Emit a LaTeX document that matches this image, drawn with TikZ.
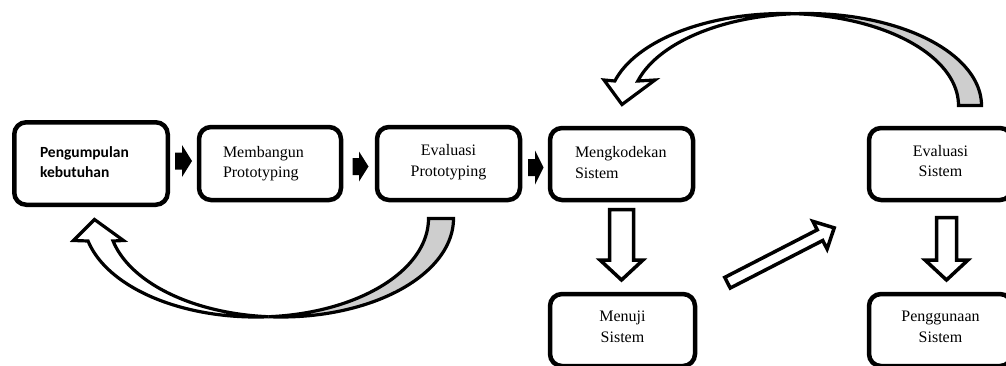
\documentclass[tikz,border=0pt]{standalone}
\usepackage{fontspec}
\setmainfont{Liberation Serif}
\newfontfamily\calibfont{Carlito}
\definecolor{backgray}{RGB}{206,206,206}
\begin{document}
\begin{tikzpicture}[x=1pt,y=-1pt,
  box/.style={draw, line width=4.5pt, rounded corners=12pt, inner sep=0pt, fill=white,
    font=\fontsize{16}{20.5}\selectfont,
    execute at begin node=\strut, execute at end node=\strut},
  smallarrow/.style={fill=black},
  hollow/.style={draw, line width=3.5pt, fill=white, line join=miter},
  curvy/.style={draw, line width=3.2pt, line join=miter},
]
\useasboundingbox (0,0) rectangle (1006,365);
\clip (0,0) rectangle (1006,365);

% boxes
\node[box, minimum width=153.5pt, minimum height=82.5pt, text width=102pt, align=left,
  font=\calibfont\bfseries\fontsize{15.5}{20}\selectfont] (pk) at (91,163.5) {Pengumpulan\\kebutuhan};
\node[box, minimum width=142pt, minimum height=73pt, text width=94pt, align=left] (mp) at (270,163.5) {Membangun\\Prototyping};
\node[box, minimum width=143pt, minimum height=73pt, align=center] (ep) at (448.5,163.5) {Evaluasi\\Prototyping};
\node[box, minimum width=143pt, minimum height=72pt, text width=93pt, align=left] (ms) at (621.5,164) {Mengkodekan\\Sistem};
\node[box, minimum width=143pt, minimum height=72pt, align=center] (es) at (940.5,164) {Evaluasi\\Sistem};
\node[box, minimum width=145pt, minimum height=72pt, align=center] (mj) at (622.5,330) {Menuji\\Sistem};
\node[box, minimum width=143pt, minimum height=72pt, align=center] (pg) at (940.5,330) {Penggunaan\\Sistem};

% small solid arrows
\fill[smallarrow] (175,152.5) -- (182,152.5) -- (182,145) -- (192,161) -- (182,177) -- (182,169.5) -- (175,169.5) -- cycle;
\fill[smallarrow] (352.5,158) -- (359,158) -- (359,151.5) -- (368.5,166.5) -- (359,181.5) -- (359,175) -- (352.5,175) -- cycle;
\fill[smallarrow] (528,159) -- (535,159) -- (535,150.5) -- (543.5,167.5) -- (535,184.5) -- (535,176) -- (528,176) -- cycle;

% hollow down arrows
\draw[hollow] (609.5,209.5) -- (633.5,209.5) -- (633.5,260) -- (643,260) -- (621.5,280) -- (600,260) -- (609.5,260) -- cycle;
\draw[hollow] (936.5,217.5) -- (956.5,217.5) -- (956.5,260) -- (968,260) -- (946.5,280) -- (925,260) -- (936.5,260) -- cycle;

% diagonal hollow arrow
\begin{scope}[shift={(727.5,282.7)}, rotate=27.2]
\draw[hollow] (0,-6) -- (104,-6) -- (104,-15.5) -- (120,0) -- (104,15.5) -- (104,6) -- (0,6) -- cycle;
\end{scope}

% bottom curved arrow (Evaluasi Prototyping -> Pengumpulan kebutuhan)
\draw[curvy, fill=backgray]
  plot[domain=0:94.155, samples=50] ({281+172.5*cos(\x)},{218.5+98.5*sin(\x)})
  -- plot[domain=85.845:0, samples=50] ({256+172.5*cos(\x)},{218.5+98.5*sin(\x)})
  -- cycle;
\draw[curvy, fill=white]
  plot[domain=85.845:166.8, samples=50] ({256+172.5*cos(\x)},{218.5+98.5*sin(\x)})
  -- (73.5,240.5) -- (94.5,219.5) -- (123.5,240.5)
  -- plot[domain=166.8:94.155, samples=50] ({281+172.5*cos(\x)},{218.5+98.5*sin(\x)})
  -- cycle;

% top curved arrow (Evaluasi Sistem -> Mengkodekan Sistem)
\draw[curvy, fill=backgray]
  plot[domain=0:93.77, samples=50] ({806.5+175*cos(\x)},{105.5-92*sin(\x)})
  -- plot[domain=86.23:0, samples=50] ({783.5+175*cos(\x)},{105.5-92*sin(\x)})
  -- cycle;
\draw[curvy, fill=white]
  plot[domain=86.23:164.56, samples=50] ({783.5+175*cos(\x)},{105.5-92*sin(\x)})
  -- (604,80) -- (622,104.5) -- (655,80)
  -- plot[domain=164.56:93.77, samples=50] ({806.5+175*cos(\x)},{105.5-92*sin(\x)})
  -- cycle;
\end{tikzpicture}
\end{document}
